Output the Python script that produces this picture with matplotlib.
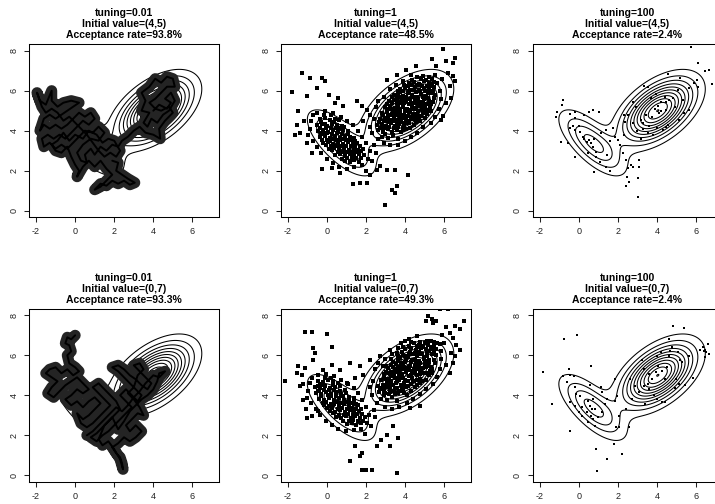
import numpy as np
import matplotlib.pyplot as plt

plt.rcParams['font.family'] = ['Liberation Sans', 'DejaVu Sans']
plt.rcParams['axes.unicode_minus'] = False

# target: mixture of two bivariate normals
mix_w = [0.77, 0.23]
mix_mu = [(4.05, 5.0), (0.7, 3.4)]
mix_cov = [[[1.23, 0.55], [0.55, 0.89]],
           [[1.0, -0.68], [-0.68, 0.92]]]
contour_levels = np.arange(1, 12) * 0.0125

tunings = ["0.01", "1", "100"]
inits = ["(4,5)", "(0,7)"]
acc_rates = [["93.8%", "48.5%", "2.4%"],
             ["93.3%", "49.3%", "2.4%"]]

# tuning=0.01, start (4,5): slow random walk trace
walk_45 = [
    (4.0, 5.0), (4.3, 5.3), (4.7, 5.1), (4.9, 5.4), (4.6, 5.6), (4.9, 5.9), (5.1, 5.5), (4.8, 5.0),
    (4.5, 4.8), (4.2, 4.4), (3.9, 4.6), (3.7, 4.2), (3.5, 4.4), (3.8, 4.9), (3.4, 5.0), (3.6, 5.5),
    (3.4, 5.9), (3.8, 6.2), (4.1, 6.6), (4.4, 6.4), (4.7, 6.7), (5.0, 6.6), (5.1, 6.2), (4.7, 6.2),
    (4.4, 5.9), (4.1, 5.6), (3.8, 5.4), (4.1, 5.1), (4.4, 5.0), (4.8, 5.2), (5.0, 4.9), (4.6, 4.5),
    (4.3, 4.1), (4.35, 3.6), (4.0, 3.8), (3.6, 3.9), (3.3, 4.2), (3.0, 4.0), (2.7, 3.7), (2.4, 3.5),
    (2.2, 3.2), (1.9, 3.3), (1.6, 3.0), (1.3, 3.2), (1.0, 2.8), (0.8, 3.1), (0.5, 2.8), (0.6, 2.4),
    (0.3, 2.5), (0.1, 2.9), (0.4, 3.3), (0.8, 3.6), (1.2, 3.5), (1.5, 3.9), (1.2, 4.2), (0.9, 3.9),
    (0.5, 4.0), (0.2, 3.7), (-0.1, 3.4), (-0.4, 3.1), (-0.7, 3.3), (-1.0, 3.1), (-1.3, 3.4), (-1.6, 3.2),
    (-1.7, 3.6), (-1.4, 3.8), (-1.1, 3.6), (-0.8, 3.8), (-0.5, 3.6), (-0.2, 3.9), (0.1, 4.2), (0.4, 4.5),
    (0.7, 4.3), (1.0, 4.6), (0.8, 4.9), (0.5, 4.7), (0.2, 4.9), (-0.1, 4.6), (-0.4, 4.3), (-0.7, 4.1),
    (-1.0, 4.3), (-1.3, 4.1), (-1.6, 4.3), (-1.8, 4.0), (-1.6, 4.6), (-1.3, 4.8), (-1.0, 4.6), (-0.7, 4.8),
    (-0.4, 5.0), (-0.1, 5.2), (0.2, 5.4), (-0.2, 5.5), (-0.6, 5.4), (-0.9, 5.2), (-1.2, 5.5), (-1.2, 6.0),
    (-1.5, 5.3), (-1.8, 5.5), (-1.95, 5.9), (-1.7, 5.2), (-1.5, 4.9), (-1.2, 5.1), (-0.9, 4.9), (-0.6, 4.5),
    (-0.3, 4.7), (0.0, 4.4), (0.3, 4.1), (0.6, 3.8), (0.9, 3.4), (1.2, 3.0), (1.5, 2.7), (1.8, 2.9),
    (2.1, 2.7), (2.3, 3.0), (2.0, 3.5), (1.7, 3.6), (1.4, 3.4), (1.1, 3.8), (0.7, 4.0), (0.4, 3.6),
    (0.0, 3.8), (-0.3, 3.5), (-0.6, 3.9), (-0.9, 3.5), (-1.2, 3.3), (-1.0, 3.0), (-0.7, 2.9), (-0.4, 3.2),
    (-0.2, 2.7), (0.0, 2.3), (0.2, 2.0), (0.1, 1.7), (0.4, 2.2), (0.7, 2.5), (1.0, 2.2), (1.3, 2.5),
    (1.6, 2.1), (1.9, 1.8), (1.6, 1.5), (1.3, 1.2), (1.0, 1.05), (1.3, 1.35), (1.6, 1.25), (1.9, 1.5),
    (2.2, 1.35), (2.5, 1.5), (2.8, 1.3), (3.05, 1.4), (2.7, 1.6), (2.4, 1.8), (2.1, 2.0), (2.2, 2.4),
    (1.9, 2.5),
]

# tuning=0.01, start (0,7)
walk_07 = [
    (0.0, 7.0), (-0.2, 6.8), (-0.4, 6.9), (-0.5, 6.6), (-0.3, 6.5), (-0.2, 6.2), (-0.4, 6.0), (-0.3, 5.6),
    (0.0, 5.4), (0.2, 5.2), (-0.1, 5.0), (-0.4, 5.3), (-0.7, 5.1), (-1.0, 5.4), (-1.3, 5.3), (-1.5, 5.1),
    (-1.2, 4.9), (-0.9, 4.7), (-1.2, 4.4), (-1.4, 4.1), (-1.1, 3.9), (-0.8, 4.2), (-0.5, 4.5), (-0.2, 4.7),
    (0.1, 4.9), (0.4, 4.6), (0.7, 4.3), (0.4, 4.1), (0.1, 4.3), (-0.2, 4.0), (-0.5, 3.8), (-0.2, 3.5),
    (0.1, 3.7), (0.4, 3.4), (0.7, 3.7), (1.0, 3.9), (1.3, 3.6), (1.0, 3.3), (0.7, 3.0), (0.4, 2.8),
    (0.1, 3.1), (0.3, 2.6), (0.6, 2.4), (0.9, 2.6), (1.2, 2.9), (1.5, 3.2), (1.8, 3.5), (1.5, 3.8),
    (1.2, 4.1), (0.9, 4.4), (1.2, 4.6), (1.5, 4.3), (1.8, 4.0), (2.1, 3.7), (2.3, 3.3), (2.0, 3.0),
    (1.7, 2.7), (1.4, 2.4), (1.1, 2.1), (0.8, 1.9), (1.1, 1.7), (1.4, 2.0), (1.7, 2.2), (2.0, 2.5),
    (2.3, 2.8), (2.6, 3.1), (2.9, 3.4), (2.6, 3.7), (2.3, 4.0), (2.6, 4.3), (2.9, 4.0), (3.2, 3.7),
    (3.4, 4.0), (3.1, 4.3), (2.8, 4.6), (2.5, 4.9), (2.2, 5.2), (1.9, 5.4), (2.2, 5.5), (2.5, 5.3),
    (2.8, 5.0), (3.1, 4.8), (3.4, 4.5), (3.7, 4.3), (3.9, 4.6), (3.6, 4.9), (3.3, 5.2), (3.0, 5.5),
    (3.3, 5.6), (3.5, 5.3), (3.2, 5.0), (3.0, 4.4), (2.7, 4.1), (3.0, 3.8), (3.3, 3.4), (3.5, 3.0),
    (3.2, 3.1), (2.9, 2.8), (2.6, 2.5), (2.8, 2.2), (3.1, 2.5), (3.4, 2.2), (3.1, 1.9), (2.8, 1.7),
    (2.5, 1.9), (2.2, 1.6), (1.9, 1.4), (2.1, 1.1), (2.3, 0.9), (2.4, 0.6), (2.45, 0.3), (2.3, 0.8),
    (2.0, 1.3), (1.7, 1.7), (1.4, 1.5), (1.2, 1.8), (1.5, 2.5), (1.9, 2.9), (2.2, 2.3), (2.5, 2.7),
    (2.8, 3.2), (3.1, 3.5), (3.4, 3.8), (3.7, 4.0), (4.0, 4.3), (4.2, 4.7), (4.3, 5.1), (4.6, 5.2),
    (4.3, 4.9), (4.0, 5.0), (3.6, 4.6), (3.3, 4.2), (3.0, 3.9), (2.7, 3.5), (2.4, 3.2), (2.1, 3.4),
    (1.8, 3.1), (1.5, 2.8), (1.2, 2.5), (0.9, 2.2), (0.6, 2.0),
]

# tuning=1, start (4,5): accepted states
cloud_45 = [
    # outlying draws
    (5.93, 8.1), (6.53, 7.63), (6.44, 7.38), (6.07, 7.47), (5.34, 7.6), (5.59, 7.22), (6.19, 6.88),
    (6.44, 6.72), (6.53, 6.47), (6.27, 6.22), (6.36, 5.63), (6.1, 5.38), (5.93, 4.72), (5.85, 4.55),
    (4.57, 7.22), (4.06, 7.05), (3.55, 6.8), (3.04, 6.55), (-1.27, 6.88), (-1.81, 5.93), (-0.88, 6.63),
    (-0.28, 6.63), (-0.11, 6.47), (-0.54, 6.13), (0.11, 5.8), (-1.01, 5.72), (0.57, 5.63), (0.4, 5.38),
    (0.83, 5.22), (-1.47, 4.97), (-1.56, 4.3), (-1.64, 3.8), (-1.39, 3.88), (-1.05, 3.38), (-0.79, 2.88),
    (-0.28, 2.08), (0.23, 2.13), (0.66, 1.88), (1.34, 1.35), (1.68, 1.38), (2.02, 1.38), (2.19, 1.8),
    (2.53, 2.05), (2.7, 2.22), (3.04, 2.05), (3.46, 2.05), (4.14, 1.77), (3.34, 1.05), (3.46, 0.88),
    (3.55, 1.22), (2.95, 0.27), (1.76, 5.22), (1.51, 5.47), (2.02, 5.05), (2.19, 4.8), (1.85, 4.47),
    # right mode
    (2.8, 3.7), (3.1, 3.65), (3.35, 3.8), (3.6, 3.6), (2.95, 3.85),
    (2.6, 4.05), (2.85, 3.95), (3.1, 4.1), (3.3, 3.95), (3.55, 4.05), (3.8, 3.95), (4.05, 4.1),
    (2.55, 4.3), (2.8, 4.35), (3.0, 4.25), (3.25, 4.4), (3.45, 4.25), (3.7, 4.35), (3.95, 4.25),
    (4.2, 4.4), (4.45, 4.3), (2.7, 4.6), (2.95, 4.65), (3.15, 4.55), (3.4, 4.7), (3.6, 4.55),
    (3.85, 4.65), (4.05, 4.55), (4.3, 4.7), (4.55, 4.6), (4.75, 4.5), (2.8, 4.9), (3.05, 4.95),
    (3.3, 4.85), (3.5, 5.0), (3.75, 4.9), (3.95, 4.8), (4.2, 4.95), (4.4, 4.85), (4.65, 5.0),
    (4.9, 4.9), (5.1, 4.85), (2.95, 5.2), (3.2, 5.25), (3.45, 5.15), (3.65, 5.3), (3.9, 5.2),
    (4.1, 5.1), (4.35, 5.25), (4.55, 5.15), (4.8, 5.3), (5.0, 5.2), (5.25, 5.15), (3.15, 5.5),
    (3.4, 5.55), (3.6, 5.45), (3.85, 5.6), (4.05, 5.5), (4.3, 5.4), (4.5, 5.55), (4.75, 5.45),
    (4.95, 5.6), (5.2, 5.5), (5.4, 5.45), (3.4, 5.8), (3.65, 5.85), (3.9, 5.75), (4.15, 5.9),
    (4.35, 5.8), (4.6, 5.7), (4.8, 5.85), (5.05, 5.75), (5.3, 5.9), (5.5, 5.8), (3.75, 6.1),
    (4.0, 6.15), (4.25, 6.05), (4.5, 6.2), (4.7, 6.05), (4.95, 6.15), (5.2, 6.05), (5.45, 6.2),
    (4.2, 6.4), (4.45, 6.45), (4.7, 6.35), (4.95, 6.5), (5.2, 6.4), (5.45, 6.45), (4.6, 6.7),
    (4.9, 6.75), (5.2, 6.7), (5.5, 6.8), (2.7, 4.15), (3.0, 4.5), (3.2, 4.8), (3.55, 4.45),
    (3.75, 4.75), (4.0, 4.4), (4.15, 4.75), (4.4, 4.6), (3.35, 5.05), (3.6, 5.1), (3.8, 5.4),
    (4.0, 5.0), (4.25, 5.05), (4.45, 5.4), (4.65, 5.25), (4.9, 5.4), (5.1, 5.35), (3.55, 5.65),
    (3.75, 5.95), (4.05, 5.7), (4.25, 5.6), (4.55, 5.95), (4.75, 6.3), (5.0, 6.0), (5.3, 6.25),
    (4.35, 6.3), (5.15, 5.0), (4.6, 4.85), (3.3, 4.55), (3.9, 4.05), (2.3, 3.9), (2.4, 4.6),
    (2.5, 5.2), (2.6, 5.5), (2.9, 5.7), (3.2, 6.1), (3.5, 6.3), (3.9, 6.5), (4.3, 6.8), (5.75, 6.0),
    (5.8, 5.6), (5.7, 5.1), (5.5, 4.7), (5.3, 4.4), (4.9, 4.2), (4.6, 3.9), (4.3, 3.7), (4.0, 3.5),
    (3.6, 3.3), (3.2, 3.3), (2.9, 3.4), (5.9, 6.6), (5.6, 6.4), (2.2, 4.2),
    (2.9, 4.15), (3.15, 4.2), (3.4, 4.12), (3.65, 4.18), (3.9, 4.13), (4.25, 4.15), (2.65, 4.45),
    (2.9, 4.48), (3.15, 4.42), (3.4, 4.47), (3.8, 4.45), (4.2, 4.5), (4.55, 4.42), (4.7, 4.62),
    (2.85, 4.78), (3.1, 4.72), (3.5, 4.77), (3.95, 4.72), (4.5, 4.78), (4.8, 4.73), (5.0, 4.65),
    (3.05, 5.08), (3.25, 5.1), (3.75, 5.07), (4.45, 5.08), (4.85, 5.1), (5.05, 5.05), (5.3, 5.0),
    (3.05, 5.35), (3.3, 5.38), (3.55, 5.4), (3.95, 5.38), (4.2, 5.33), (4.65, 5.38), (5.0, 5.35),
    (5.3, 5.32), (3.3, 5.68), (3.7, 5.7), (3.95, 5.63), (4.4, 5.68), (4.65, 5.6), (4.9, 5.7),
    (5.15, 5.65), (5.45, 5.65), (3.6, 6.0), (3.9, 6.0), (4.2, 5.97), (4.45, 6.05), (4.75, 5.98),
    (5.15, 5.9), (5.4, 6.0), (3.95, 6.3), (4.15, 6.25), (4.6, 6.28), (4.85, 6.25), (5.1, 6.25),
    (5.35, 6.35), (4.35, 6.55), (4.8, 6.58), (5.05, 6.55), (5.35, 6.6),
    # left mode
    (0.9, 2.5), (1.15, 2.45), (1.4, 2.55), (1.65, 2.45), (0.4, 2.8), (0.65, 2.85), (0.9, 2.75),
    (1.15, 2.85), (1.4, 2.75), (1.65, 2.85), (1.9, 2.8), (0.1, 3.1), (0.35, 3.15), (0.6, 3.05),
    (0.85, 3.15), (1.1, 3.05), (1.35, 3.15), (1.6, 3.05), (1.85, 3.1), (-0.2, 3.4), (0.05, 3.45),
    (0.3, 3.35), (0.55, 3.45), (0.8, 3.35), (1.05, 3.45), (1.3, 3.35), (1.55, 3.4), (-0.35, 3.7),
    (-0.1, 3.75), (0.15, 3.65), (0.4, 3.75), (0.65, 3.65), (0.9, 3.75), (1.15, 3.7), (1.4, 3.65),
    (-0.45, 4.0), (-0.2, 4.05), (0.05, 3.95), (0.3, 4.05), (0.55, 3.95), (0.8, 4.05), (1.05, 4.0),
    (-0.5, 4.3), (-0.25, 4.35), (0.0, 4.25), (0.25, 4.35), (0.5, 4.3), (0.75, 4.25), (-0.35, 4.6),
    (-0.1, 4.65), (0.15, 4.55), (0.4, 4.6), (0.2, 3.25), (0.45, 3.55), (0.7, 3.25), (0.95, 3.55),
    (1.2, 3.25), (0.0, 3.55), (0.25, 3.85), (0.5, 3.9), (0.75, 3.85), (-0.05, 4.15), (0.2, 4.15),
    (0.45, 4.15), (1.0, 2.95), (1.25, 2.65), (0.75, 2.6), (1.5, 2.95), (1.3, 3.55), (-0.3, 3.9),
    (-0.8, 4.5), (-0.9, 4.1), (-0.7, 3.5), (-0.5, 3.2), (-0.3, 2.9), (0.0, 2.6), (0.3, 2.4),
    (0.6, 2.2), (1.0, 2.1), (1.4, 2.2), (1.8, 2.3), (2.1, 2.6), (2.2, 3.0), (2.0, 3.4), (1.8, 3.7),
    (1.6, 4.0), (1.3, 4.3), (1.0, 4.5), (0.7, 4.7), (0.3, 4.9), (-0.1, 5.0), (-0.5, 4.9), (-0.7, 4.8),
    (2.4, 3.3), (2.6, 3.6), (2.5, 2.9), (2.3, 2.5), (2.0, 2.0), (-1.2, 4.5), (-1.0, 3.8),
    (1.0, 2.62), (1.5, 2.65), (1.75, 2.65), (0.55, 2.95), (0.8, 2.95), (1.25, 2.95), (1.75, 3.0),
    (0.25, 3.05), (0.5, 3.25), (0.95, 3.25), (1.45, 3.25), (1.7, 3.25), (-0.05, 3.3), (0.15, 3.5),
    (0.65, 3.55), (1.15, 3.55), (1.45, 3.5), (-0.25, 3.55), (0.3, 3.6), (0.8, 3.6), (1.05, 3.85),
    (-0.2, 3.85), (0.0, 3.9), (0.6, 4.15), (0.85, 4.2), (-0.35, 4.15), (-0.1, 4.35), (0.35, 4.45),
    (0.6, 4.55), (-0.3, 4.45), (-0.15, 4.8), (0.2, 4.8),
]

# tuning=1, start (0,7)
cloud_07 = [
    (5.76, 8.3), (6.19, 8.3), (5.08, 7.72), (5.34, 7.8), (5.17, 7.97), (5.42, 7.63), (5.59, 7.72),
    (7.0, 7.72), (6.78, 7.3), (6.53, 7.46), (6.07, 7.43), (6.27, 7.13), (6.44, 6.88), (6.61, 6.54),
    (6.78, 6.29), (6.36, 6.13), (6.53, 5.96), (6.1, 5.54), (6.44, 5.62), (6.27, 5.12), (-1.13, 7.16),
    (-0.76, 7.18), (-0.03, 7.05), (0.23, 6.43), (-0.71, 6.38), (-0.74, 5.79), (-0.62, 6.13),
    (-1.47, 5.46), (-2.15, 4.7), (-1.56, 5.12), (-1.13, 5.37), (-1.22, 3.78), (-1.39, 4.45),
    (-0.79, 2.95), (-1.05, 2.86), (-0.45, 3.2), (1.17, 0.69), (1.76, 0.27), (1.98, 0.27), (2.32, 0.27),
    (3.55, 0.1), (1.68, 0.94), (1.42, 1.44), (1.76, 1.1), (2.53, 1.44), (3.21, 1.44), (2.78, 1.77),
    (3.04, 2.02), (3.38, 2.44), (3.63, 1.86), (4.23, 3.37), (4.74, 3.45), (3.97, 6.71), (3.21, 6.29),
    (2.7, 5.96), (2.87, 5.46), (2.19, 5.79), (1.68, 5.46), (1.17, 5.62), (0.66, 5.29), (0.23, 5.54),
    (-0.2, 5.29), (1.85, 5.04), (1.42, 4.87), (1.0, 4.62),
    # right mode
    (2.75, 3.8), (3.05, 3.75), (3.3, 3.9), (3.55, 3.7), (2.9, 4.0), (2.65, 4.15), (2.9, 4.2),
    (3.15, 4.05), (3.4, 4.2), (3.65, 4.1), (3.9, 4.2), (4.1, 4.0), (2.6, 4.45), (2.85, 4.5),
    (3.1, 4.4), (3.35, 4.5), (3.55, 4.35), (3.8, 4.5), (4.05, 4.4), (4.3, 4.55), (4.5, 4.4),
    (2.75, 4.75), (3.0, 4.8), (3.25, 4.7), (3.45, 4.85), (3.7, 4.75), (3.9, 4.85), (4.15, 4.7),
    (4.35, 4.85), (4.6, 4.75), (4.85, 4.7), (2.9, 5.05), (3.15, 5.1), (3.4, 5.0), (3.6, 5.15),
    (3.85, 5.05), (4.05, 5.15), (4.3, 5.0), (4.5, 5.15), (4.75, 5.05), (4.95, 5.1), (5.2, 5.0),
    (3.1, 5.35), (3.35, 5.4), (3.55, 5.3), (3.8, 5.45), (4.0, 5.35), (4.25, 5.45), (4.45, 5.3),
    (4.7, 5.4), (4.9, 5.35), (5.15, 5.45), (5.35, 5.3), (3.35, 5.65), (3.6, 5.7), (3.8, 5.6),
    (4.05, 5.75), (4.3, 5.65), (4.5, 5.75), (4.75, 5.6), (5.0, 5.7), (5.2, 5.65), (5.45, 5.75),
    (3.65, 5.95), (3.9, 6.0), (4.15, 5.9), (4.4, 6.05), (4.6, 5.95), (4.85, 6.05), (5.1, 5.95),
    (5.35, 6.05), (5.55, 6.0), (4.0, 6.3), (4.3, 6.35), (4.55, 6.25), (4.8, 6.35), (5.05, 6.3),
    (5.3, 6.4), (5.55, 6.3), (4.45, 6.6), (4.75, 6.65), (5.0, 6.6), (5.3, 6.7), (5.6, 6.6),
    (2.8, 4.35), (3.05, 4.6), (3.25, 4.95), (3.5, 4.6), (3.7, 4.95), (3.95, 4.6), (4.2, 4.95),
    (4.4, 4.7), (3.45, 5.2), (3.7, 5.25), (3.9, 5.55), (4.15, 5.25), (4.35, 5.2), (4.55, 5.55),
    (4.75, 5.25), (5.0, 5.5), (5.25, 5.2), (3.5, 5.55), (3.75, 5.85), (4.0, 5.95), (4.25, 6.15),
    (4.5, 5.45), (4.7, 6.15), (4.95, 5.9), (5.2, 6.2), (4.6, 6.45), (5.45, 6.5), (3.2, 4.3),
    (4.6, 5.0), (3.85, 4.3), (2.3, 4.0), (2.35, 4.7), (2.45, 5.3), (2.6, 5.6), (2.95, 5.8),
    (3.3, 6.05), (3.6, 6.35), (3.8, 6.6), (4.2, 6.8), (4.6, 6.95), (5.8, 6.2), (5.85, 5.8),
    (5.75, 5.3), (5.6, 4.9), (5.4, 4.55), (5.05, 4.3), (4.75, 4.05), (4.4, 3.8), (4.1, 3.6),
    (3.7, 3.4), (3.3, 3.3), (2.95, 3.4), (6.0, 6.6), (5.75, 6.55), (2.2, 4.4), (5.9, 7.0),
    (2.95, 4.1), (3.2, 4.17), (3.45, 4.08), (3.7, 4.22), (3.95, 4.1), (4.3, 4.2), (2.7, 4.3),
    (2.95, 4.4), (3.2, 4.5), (3.45, 4.38), (3.85, 4.4), (4.15, 4.48), (4.6, 4.5), (4.75, 4.6),
    (2.9, 4.85), (3.15, 4.8), (3.55, 4.7), (4.0, 4.78), (4.45, 4.72), (4.75, 4.8), (5.05, 4.78),
    (3.0, 5.15), (3.3, 5.18), (3.7, 5.1), (4.4, 5.12), (4.8, 5.18), (5.1, 5.12), (5.35, 5.1),
    (3.0, 5.45), (3.25, 5.5), (3.6, 5.42), (3.9, 5.3), (4.2, 5.4), (4.6, 5.3), (5.05, 5.4),
    (5.3, 5.4), (3.25, 5.8), (3.65, 5.78), (4.0, 5.68), (4.35, 5.75), (4.7, 5.7), (4.95, 5.8),
    (5.2, 5.75), (5.5, 5.6), (3.55, 6.1), (3.85, 6.15), (4.2, 6.05), (4.5, 6.1), (4.8, 6.05),
    (5.1, 6.1), (5.45, 6.1), (3.9, 6.4), (4.2, 6.45), (4.65, 6.4), (4.9, 6.45), (5.15, 6.5),
    (5.4, 6.3), (4.3, 6.65), (4.7, 6.5), (5.1, 6.72), (5.45, 6.68),
    # left mode
    (1.0, 2.55), (1.25, 2.6), (1.5, 2.5), (1.75, 2.6), (0.45, 2.9), (0.7, 2.85), (0.95, 2.95),
    (1.2, 2.85), (1.45, 2.95), (1.7, 2.85), (1.95, 2.9), (0.15, 3.2), (0.4, 3.15), (0.65, 3.25),
    (0.9, 3.15), (1.15, 3.25), (1.4, 3.15), (1.65, 3.2), (-0.15, 3.5), (0.1, 3.45), (0.35, 3.55),
    (0.6, 3.45), (0.85, 3.55), (1.1, 3.45), (1.35, 3.55), (1.6, 3.5), (-0.4, 3.8), (-0.15, 3.75),
    (0.1, 3.85), (0.35, 3.75), (0.6, 3.85), (0.85, 3.75), (1.1, 3.8), (1.35, 3.85), (-0.55, 4.1),
    (-0.3, 4.05), (-0.05, 4.15), (0.2, 4.05), (0.45, 4.15), (0.7, 4.05), (0.95, 4.1), (-0.6, 4.4),
    (-0.35, 4.35), (-0.1, 4.45), (0.15, 4.35), (0.4, 4.4), (0.65, 4.45), (-0.45, 4.7), (-0.2, 4.65),
    (0.05, 4.75), (0.3, 4.7), (0.25, 3.35), (0.5, 3.65), (0.75, 3.35), (1.0, 3.65), (1.25, 3.35),
    (-0.05, 3.65), (0.2, 3.95), (0.45, 3.95), (0.8, 3.95), (-0.15, 4.25), (0.1, 4.25), (0.35, 4.25),
    (1.05, 3.05), (1.3, 2.75), (0.8, 2.7), (1.55, 3.05), (1.4, 3.65), (-0.35, 4.55), (-0.9, 4.6),
    (-1.0, 4.2), (-0.8, 3.6), (-0.55, 3.3), (-0.35, 3.0), (-0.05, 2.7), (0.25, 2.5), (0.55, 2.3),
    (0.95, 2.2), (1.35, 2.25), (1.75, 2.3), (2.05, 2.6), (2.15, 3.0), (2.0, 3.4), (1.8, 3.75),
    (1.6, 4.1), (1.35, 4.35), (1.05, 4.55), (0.7, 4.75), (0.35, 4.95), (-0.05, 5.05), (-0.45, 5.0),
    (-0.75, 4.85), (2.4, 3.25), (2.55, 3.6), (2.45, 2.9), (2.25, 2.45), (1.95, 2.05), (-1.25, 4.55),
    (-1.05, 3.85), (-1.3, 5.0), (-1.1, 3.3),
    (1.1, 2.7), (1.6, 2.72), (1.85, 2.7), (0.6, 3.02), (0.85, 3.0), (1.3, 3.02), (1.8, 3.05),
    (0.3, 3.1), (0.55, 3.3), (1.0, 3.3), (1.5, 3.3), (1.75, 3.32), (0.0, 3.35), (0.2, 3.58),
    (0.7, 3.6), (1.2, 3.6), (1.5, 3.58), (-0.2, 3.6), (0.35, 3.65), (0.85, 3.65), (1.1, 3.92),
    (-0.3, 3.95), (0.05, 4.0), (0.65, 4.22), (0.9, 4.25), (-0.4, 4.22), (-0.2, 4.5), (0.3, 4.52),
    (0.55, 4.6), (-0.45, 4.48), (-0.1, 4.88), (0.2, 4.85),
]

# tuning=100, start (4,5): the few accepted moves
jumps_45 = [
    (5.74, 8.2), (6.09, 7.37), (6.48, 6.98), (6.68, 7.03), (6.82, 6.33), (5.91, 6.4), (6.06, 6.55),
    (5.18, 6.65), (4.59, 6.82), (3.36, 6.23), (3.53, 6.17), (3.70, 5.62), (3.96, 5.82), (4.21, 5.45),
    (4.04, 5.23), (4.47, 5.45), (4.64, 5.53), (4.84, 5.62), (4.94, 5.2), (4.47, 5.03), (4.09, 4.87),
    (3.75, 4.7), (3.45, 4.78), (2.94, 5.2), (2.77, 5.45), (2.51, 4.78), (2.37, 4.45), (2.77, 4.37),
    (3.19, 4.53), (3.28, 4.37), (3.62, 4.23), (4.01, 4.15), (4.3, 4.03), (4.47, 4.2), (3.79, 3.78),
    (3.53, 3.87), (3.19, 3.57), (4.55, 4.28), (5.15, 4.53), (5.40, 4.87), (5.66, 5.03), (5.32, 5.53),
    (5.06, 6.03), (5.66, 6.12), (6.09, 6.2), (4.4, 5.7), (3.9, 5.1), (4.2, 5.0), (3.3, 4.1), (3.0, 4.0),
    (-1.11, 4.92), (-1.15, 4.7), (-0.81, 5.53), (-0.84, 5.28), (-0.89, 3.45), (-0.42, 4.83),
    (-0.21, 4.92), (-0.18, 4.62), (-0.30, 4.23), (-0.42, 4.12), (-0.20, 4.03), (-0.21, 2.7),
    (-0.55, 3.37), (0.04, 4.23), (0.08, 3.95), (0.30, 4.78), (0.55, 4.95), (0.76, 5.03), (1.03, 4.95),
    (0.21, 3.7), (0.30, 3.57), (0.43, 3.45), (0.55, 3.53), (0.64, 3.4), (0.81, 3.57), (0.47, 2.87),
    (0.72, 3.2), (0.89, 2.95), (0.89, 2.7), (1.1, 2.45), (1.4, 2.2), (0.77, 1.95), (1.63, 2.0),
    (1.44, 2.78), (1.15, 3.87), (1.4, 4.03), (1.74, 4.12), (1.88, 3.7), (2.0, 3.53), (2.12, 3.28),
    (2.31, 3.78), (2.34, 4.78), (2.26, 2.87), (2.43, 2.53), (2.68, 2.28), (2.77, 2.2), (2.51, 2.12),
    (2.46, 1.7), (2.56, 1.45), (3.02, 1.62), (2.43, 1.25), (3.02, 0.67), (3.11, 2.53), (3.07, 2.2),
    (1.61, 3.5),
]

# tuning=100, start (0,7)
jumps_07 = [
    (-1.83, 5.19), (-1.35, 3.56), (-0.74, 6.8), (-0.06, 7.03), (-0.45, 5.02), (-0.8, 4.95),
    (-0.49, 5.32), (-0.23, 4.99), (-0.57, 4.65), (-0.19, 4.4), (-0.45, 3.65), (-0.19, 3.48),
    (-0.45, 2.23), (0.0, 3.15), (-0.11, 4.07), (0.07, 3.98), (0.19, 3.4), (0.15, 2.98), (0.62, 5.46),
    (0.58, 4.52), (0.72, 3.82), (0.5, 3.73), (0.58, 3.45), (0.67, 3.31), (0.84, 3.31), (0.41, 3.18),
    (0.63, 2.98), (0.75, 2.81), (0.84, 2.48), (0.46, 2.65), (1.01, 2.93), (1.22, 3.15), (1.15, 4.4),
    (1.22, 4.15), (1.36, 3.56), (1.44, 3.82), (1.84, 4.82), (1.96, 3.98), (1.87, 3.73), (2.04, 2.98),
    (1.91, 2.43), (2.04, 2.39), (2.6, 2.39), (1.79, 1.56), (2.22, 1.05), (1.44, 0.8), (0.93, 0.22),
    (0.87, 1.31), (2.44, 3.31), (2.73, 3.82), (2.65, 4.82), (2.87, 4.49), (3.08, 4.15), (3.25, 5.77),
    (3.34, 5.32), (3.59, 5.07), (3.77, 4.82), (3.34, 4.49), (3.56, 4.57), (3.59, 4.32), (3.42, 3.56),
    (3.85, 4.02), (4.02, 3.82), (4.28, 3.65), (4.42, 3.65), (3.94, 5.15), (4.08, 5.49), (4.28, 5.24),
    (4.42, 4.82), (4.54, 5.41), (4.63, 5.99), (4.02, 5.99), (4.19, 6.16), (4.68, 6.24), (4.8, 6.41),
    (4.63, 6.83), (4.83, 7.46), (5.06, 6.19), (5.18, 5.79), (4.97, 4.82), (5.14, 4.57), (5.31, 5.66),
    (4.94, 4.35), (5.45, 4.52), (5.66, 5.99), (5.4, 7.38), (5.83, 4.88), (6.21, 6.29), (6.35, 6.44),
    (6.42, 6.21), (6.52, 6.16), (6.45, 5.94), (6.61, 6.58), (6.66, 6.08), (6.49, 6.29),
]

chains = [[walk_45, cloud_45, jumps_45],
          [walk_07, cloud_07, jumps_07]]

# density of the target on a grid
gx, gy = np.meshgrid(np.linspace(-2.6, 7.6, 400), np.linspace(-0.6, 8.6, 400))
dens = np.zeros_like(gx)
for w, mu, cov in zip(mix_w, mix_mu, mix_cov):
    inv = np.linalg.inv(cov)
    dx, dy = gx - mu[0], gy - mu[1]
    q = inv[0, 0] * dx**2 + 2 * inv[0, 1] * dx * dy + inv[1, 1] * dy**2
    dens += w * np.exp(-0.5 * q) / (2 * np.pi * np.sqrt(np.linalg.det(cov)))

W, H = 715, 504
fig = plt.figure(figsize=(W / 100, H / 100), dpi=100)
col_left = [29, 281, 532.5]
row_top = [44.3, 308.9]
ax_w, ax_h = 190, 172.8

for r in range(2):
    for c in range(3):
        ax = fig.add_axes([col_left[c] / W, 1 - (row_top[r] + ax_h) / H, ax_w / W, ax_h / H])
        ax.contour(gx, gy, dens, levels=contour_levels, colors='black', linewidths=0.75)
        pts = np.array(chains[r][c])
        if c == 0:
            # the tiny-step chain smears into a dense trail
            ax.plot(pts[:, 0], pts[:, 1], '-', color='#242424', lw=8.0,
                    solid_joinstyle='round', solid_capstyle='round')
            ax.plot(pts[:, 0], pts[:, 1], '-', color='black', lw=1.4,
                    solid_joinstyle='round', solid_capstyle='round')
        elif c == 1:
            ax.plot(pts[:, 0], pts[:, 1], 's', color='black', ms=2.2, mew=0)
        else:
            ax.plot(pts[:, 0], pts[:, 1], 's', color='black', ms=1.8, mew=0)
        ax.set_xlim(-2.36, 7.36)
        ax.set_ylim(-0.32, 8.32)
        ax.set_xticks([-2, 0, 2, 4, 6])
        ax.set_yticks([0, 2, 4, 6, 8])
        ax.tick_params(length=3.6, width=0.75, labelsize=6.5, colors='#222222')
        ax.tick_params(axis='x', pad=3.5)
        ax.tick_params(axis='y', pad=4.0)
        for lab in ax.get_yticklabels():
            lab.set_rotation(90)
            lab.set_va('center')
        for sp in ax.spines.values():
            sp.set_linewidth(0.75)
        lines = ["tuning=" + tunings[c],
                 "Initial value=" + inits[r],
                 "Acceptance rate=" + acc_rates[r][c]]
        for k, txt in enumerate(lines):
            ax.annotate(txt, xy=(0.5, 1), xycoords='axes fraction',
                        xytext=(0, 22.3 - 7.9 * k), textcoords='offset points',
                        ha='center', va='center', fontsize=7.5, fontweight='bold')

fig.savefig('out.png', dpi=100)
